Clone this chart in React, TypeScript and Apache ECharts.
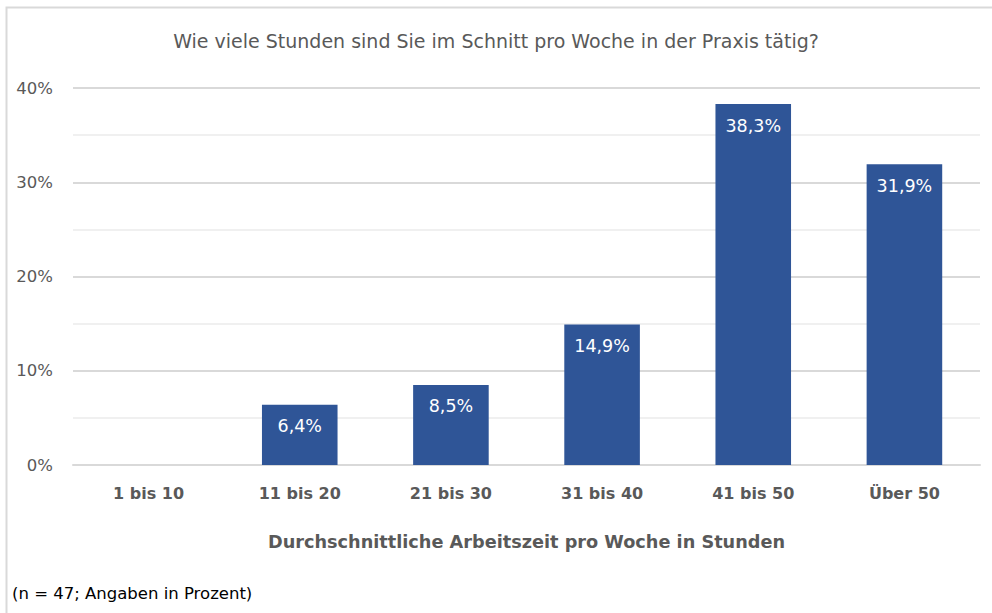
import React, { useEffect, useRef } from "react";
import * as echarts from "echarts";

const categories = ["1 bis 10", "11 bis 20", "21 bis 30", "31 bis 40", "41 bis 50", "Über 50"];
const values = [0, 6.4, 8.5, 14.9, 38.3, 31.9];
const titleText = "Wie viele Stunden sind Sie im Schnitt pro Woche in der Praxis tätig?";
const xAxisTitle = "Durchschnittliche Arbeitszeit pro Woche in Stunden";
const footnote = "(n = 47; Angaben in Prozent)";

const FONT = "'DejaVu Sans', 'Noto Sans', sans-serif";

export default function App() {
  const ref = useRef<HTMLDivElement>(null);
  useEffect(() => {
    if (!ref.current) return;
    const chart = echarts.init(ref.current, undefined, { renderer: "svg" });
    chart.setOption({
      animation: false,
      backgroundColor: "#ffffff",
      textStyle: { fontFamily: FONT },
      title: {
        text: titleText,
        left: "center",
        top: 26,
        textStyle: { fontFamily: FONT, fontSize: 19, fontWeight: "normal", color: "#595959" },
      },
      graphic: [
        {
          type: "polyline",
          shape: { points: [[6.5, 700], [6.5, 7.5], [1100, 7.5]] },
          style: { stroke: "#d9d9d9", lineWidth: 2, fill: "none" },
          silent: true,
        },
        {
          type: "text",
          left: 12,
          top: 585,
          style: { text: footnote, fontFamily: FONT, fontSize: 16.5, fill: "#000000" },
        },
      ],
      grid: { left: 73, right: 12, top: 88, bottom: 148, containLabel: false },
      xAxis: {
        type: "category",
        data: categories,
        axisLine: { show: true, lineStyle: { color: "#d9d9d9", width: 2 } },
        axisTick: { show: false },
        axisLabel: { fontFamily: FONT, fontSize: 16, fontWeight: "bold", color: "#595959", margin: 20 },
        name: xAxisTitle,
        nameLocation: "middle",
        nameGap: 68,
        nameTextStyle: { fontFamily: FONT, fontSize: 17.7, fontWeight: "bold", color: "#595959" },
      },
      yAxis: {
        type: "value",
        min: 0,
        max: 40,
        interval: 10,
        axisLine: { show: false },
        axisTick: { show: false },
        axisLabel: { fontFamily: FONT, fontSize: 16.5, color: "#595959", margin: 20, formatter: "{value}%" },
        splitLine: { show: true, lineStyle: { color: "#d9d9d9", width: 2 } },
        minorTick: { show: false, splitNumber: 2 },
        minorSplitLine: { show: true, lineStyle: { color: "#f0f0f0", width: 2 } },
      },
      series: [
        {
          type: "bar",
          data: values,
          barWidth: "50%",
          itemStyle: { color: "#2F5597" },
          label: {
            show: true,
            position: "insideTop",
            distance: 11,
            fontFamily: FONT,
            fontSize: 17.5,
            lineHeight: 21,
            color: "#ffffff",
            formatter: (p: any) => (p.value > 0 ? p.value.toFixed(1).replace(".", ",") + "%" : ""),
          },
        },
      ],
    });
    return () => chart.dispose();
  }, []);
  return (
    <div
      ref={ref}
      style={{ position: "fixed", left: 0, top: 0, width: 992, height: 613 }}
    />
  );
}
